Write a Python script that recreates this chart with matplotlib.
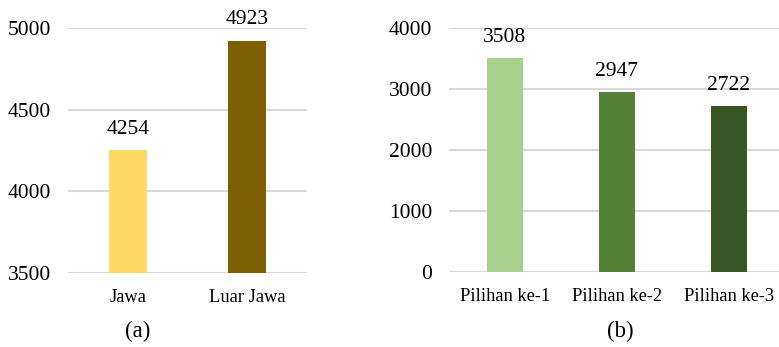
import matplotlib
matplotlib.use("Agg")
import matplotlib.pyplot as plt

plt.rcParams['font.family'] = ['Liberation Serif', 'DejaVu Serif']

# Panel (a): region comparison
region_labels = ["Jawa", "Luar Jawa"]
region_values = [4254, 4923]
region_colors = ["#FFD966", "#7F6000"]
region_ticks = [3500, 4000, 4500, 5000]

# Panel (b): choice ranking
choice_labels = ["Pilihan ke-1", "Pilihan ke-2", "Pilihan ke-3"]
choice_values = [3508, 2947, 2722]
choice_colors = ["#A9D18E", "#548235", "#375623"]
choice_ticks = [0, 1000, 2000, 3000, 4000]

W, H = 779, 347
fig = plt.figure(figsize=(W / 100, H / 100), dpi=100)

TICK_FS = 15.5
CAT_FS = 13.3
VAL_FS = 15.5
GRID = "#D9D9D9"


def style(ax, ticks):
    ax.set_yticks(ticks)
    ax.set_ylim(ticks[0], ticks[-1])
    ax.yaxis.grid(True, color=GRID, linewidth=1.5, zorder=0)
    ax.set_axisbelow(True)
    for s in ax.spines.values():
        s.set_visible(False)
    ax.tick_params(axis='y', length=0, labelsize=TICK_FS, pad=12, colors='black')
    ax.tick_params(axis='x', length=0, labelsize=CAT_FS, pad=11.5, colors='black')
    for lbl in ax.get_yticklabels():
        lbl.set_clip_on(False)


def bars(ax, labels, values, colors):
    x = list(range(len(labels)))
    rects = ax.bar(x, values, width=0.32, color=colors, zorder=2)
    ax.set_xticks(x)
    ax.set_xticklabels(labels)
    for r, v in zip(rects, values):
        ax.annotate(str(v), (r.get_x() + r.get_width() / 2, v),
                    xytext=(0, 8), textcoords='offset points',
                    ha='center', va='bottom', fontsize=VAL_FS,
                    color='black', annotation_clip=False)


def fx(px):
    return px / W


def fy(py):
    return 1 - py / H


ax1 = fig.add_axes([fx(68), fy(273), fx(307) - fx(68), fy(28) - fy(273)])
bars(ax1, region_labels, region_values, region_colors)
style(ax1, region_ticks)
ax1.set_xlim(-0.5, 1.5)

ax2 = fig.add_axes([fx(449), fy(272), fx(779) - fx(449), fy(28) - fy(272)])
bars(ax2, choice_labels, choice_values, choice_colors)
style(ax2, choice_ticks)
ax2.set_xlim(-0.5, 2.45)

fig.text(fx(138), fy(331), "(a)", ha='center', va='center', fontsize=16.5)
fig.text(fx(620), fy(331), "(b)", ha='center', va='center', fontsize=16.5)

fig.savefig("out.png", dpi=100)
